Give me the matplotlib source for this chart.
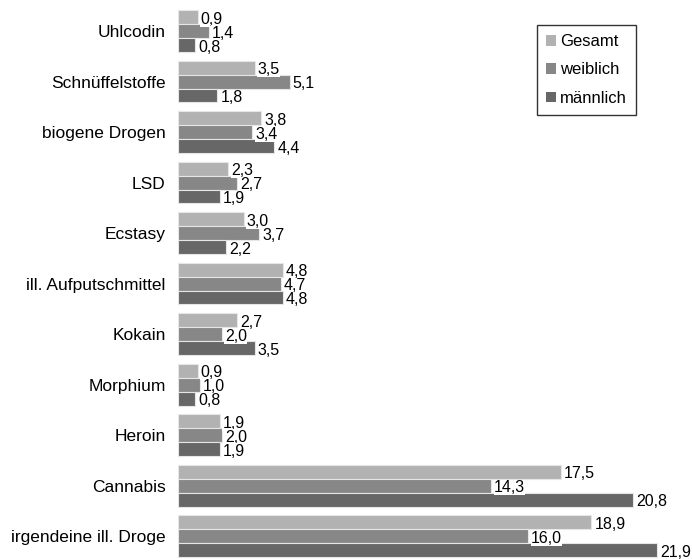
import matplotlib
matplotlib.use("Agg")
import matplotlib.pyplot as plt
import numpy as np
from matplotlib.patches import Patch

plt.rcParams['font.family'] = ['Liberation Sans', 'DejaVu Sans']

categories = ["Uhlcodin", "Schnüffelstoffe", "biogene Drogen", "LSD", "Ecstasy",
              "ill. Aufputschmittel", "Kokain", "Morphium", "Heroin", "Cannabis",
              "irgendeine ill. Droge"]
gesamt = [0.9, 3.5, 3.8, 2.3, 3.0, 4.8, 2.7, 0.9, 1.9, 17.5, 18.9]
weiblich = [1.4, 5.1, 3.4, 2.7, 3.7, 4.7, 2.0, 1.0, 2.0, 14.3, 16.0]
maennlich = [0.8, 1.8, 4.4, 1.9, 2.2, 4.8, 3.5, 0.8, 1.9, 20.8, 21.9]

series = [("Gesamt", gesamt, "#b2b2b2"),
          ("weiblich", weiblich, "#878787"),
          ("männlich", maennlich, "#676767")]

fig = plt.figure(figsize=(6.92, 5.59), dpi=100)
ax = fig.add_axes([178 / 692, 0, 514 / 692, 1])

y = np.arange(len(categories))
h = 0.277
for k, (name, vals, col) in enumerate(series):
    pos = y + (k - 1) * h
    ax.barh(pos, vals, height=h, color=col, edgecolor="#e6e6e6", linewidth=0.8)
    for p, v in zip(pos, vals):
        ax.text(v + 0.14, p + 0.04, f"{v:.1f}".replace(".", ","), ha="left",
                va="center", fontsize=11.5, color="#000000",
                bbox=dict(facecolor="white", edgecolor="none", pad=0.2))

ax.set_xlim(0, 23.5)
ax.set_ylim(10.455, -0.614)
ax.set_yticks(y)
ax.set_yticklabels(categories, fontsize=12.5)
ax.tick_params(axis="y", length=0, pad=9)
ax.set_xticks([])
for s in ax.spines.values():
    s.set_visible(False)

handles = [Patch(facecolor=c, edgecolor="none", label=n) for n, _, c in series]
leg = ax.legend(handles=handles, loc="upper left", bbox_to_anchor=((537 - 178) / 514, 1 - 25 / 559),
                fontsize=12, frameon=True, fancybox=False, handlelength=0.6, handleheight=0.6,
                handletextpad=0.25, labelspacing=0.8, borderpad=0.55, borderaxespad=0)
leg.get_frame().set_edgecolor("black")
leg.get_frame().set_linewidth(1.0)

fig.savefig("out.png", dpi=100, facecolor="white")
